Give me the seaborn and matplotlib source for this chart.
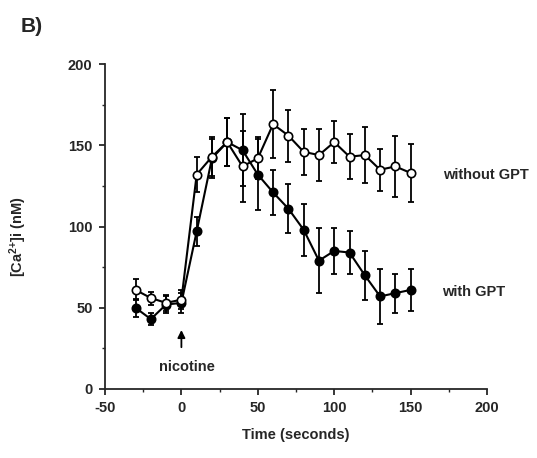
import numpy as np
import pandas as pd
import matplotlib
matplotlib.use("Agg")
import matplotlib.pyplot as plt
import seaborn as sns

time_s = [-30, -20, -10, 0, 10, 20, 30, 40, 50, 60, 70, 80, 90, 100, 110, 120, 130, 140, 150]
without_gpt = [61, 56, 53, 55, 132, 143, 152, 137, 142, 163, 156, 146, 144, 152, 143, 144, 135, 137, 133]
without_gpt_err = [6.5, 4, 5, 6, 11, 12, 15, 22, 13, 21, 16, 14, 16, 13, 14, 17, 13, 19, 18]
with_gpt = [50, 43, 52, 53, 97, 142, 152, 147, 132, 121, 111, 98, 79, 85, 84, 70, 57, 59, 61]
with_gpt_err = [5.5, 3.5, 5, 6, 9, 12, 15, 22, 22, 14, 15, 16, 20, 14, 13, 15, 17, 12, 13]
x_ticks = [-50, 0, 50, 100, 150, 200]
y_ticks = [0, 50, 100, 150, 200]

sns.set_style("ticks")
plt.rcParams['font.family'] = ['Liberation Sans', 'DejaVu Sans']
plt.rcParams['font.weight'] = 'bold'
plt.rcParams['axes.unicode_minus'] = False
plt.rcParams['mathtext.fontset'] = 'custom'
plt.rcParams['mathtext.rm'] = 'Liberation Sans:bold'
plt.rcParams['mathtext.bf'] = 'Liberation Sans:bold'
plt.rcParams['mathtext.default'] = 'bf'

df = pd.DataFrame({
    "time": time_s * 2,
    "ca": without_gpt + with_gpt,
    "err": without_gpt_err + with_gpt_err,
    "group": ["without GPT"] * len(time_s) + ["with GPT"] * len(time_s),
})

fig = plt.figure(figsize=(5.37, 4.58), dpi=100)
ax = fig.add_axes([0.1955, 0.1507, 0.7115, 0.7093])

for grp, face, z in [("with GPT", "black", 3), ("without GPT", "white", 4)]:
    sub = df[df["group"] == grp]
    ax.errorbar(sub["time"], sub["ca"], yerr=sub["err"], fmt="none",
                ecolor="black", elinewidth=1.3, capsize=2.5, capthick=1.3, zorder=z - 1)
    sns.lineplot(data=sub, x="time", y="ca", ax=ax, color="black", lw=1.5,
                 marker="o", markersize=6, markerfacecolor=face,
                 markeredgecolor="black", markeredgewidth=1.2, zorder=z)

ax.set_xlim(-50, 200)
ax.set_ylim(0, 200)
ax.set_xticks(x_ticks)
ax.set_yticks(y_ticks)
ax.set_xticks(np.arange(-25, 200, 50), minor=True)
ax.set_yticks(np.arange(25, 200, 50), minor=True)
ax.tick_params(axis="both", which="major", direction="out", length=4, width=1.3,
               labelsize=10.5, pad=5)
ax.tick_params(axis="both", which="minor", direction="out", length=2.5, width=1)
for lab in ax.get_xticklabels() + ax.get_yticklabels():
    lab.set_fontweight("bold")
for sp in ["top", "right"]:
    ax.spines[sp].set_visible(False)
for sp in ["left", "bottom"]:
    ax.spines[sp].set_linewidth(1.3)

ax.set_xlabel("Time (seconds)", fontsize=10.5, fontweight="bold", labelpad=9)
ax.set_ylabel("[Ca$^{2{+}}$]i (nM)", fontsize=10.5, fontweight="bold")
ax.yaxis.set_label_coords(-0.2, 0.47)

ax.text(171, 131.5, "without GPT", fontsize=10.5, fontweight="bold", va="center", ha="left")
ax.text(170.5, 60, "with GPT", fontsize=10.5, fontweight="bold", va="center", ha="left")
ax.text(3.6, 13.5, "nicotine", fontsize=10.5, fontweight="bold", va="center", ha="center")
ax.annotate("", xy=(0, 38), xytext=(0, 24),
            arrowprops=dict(arrowstyle="-|>", color="black", lw=1.3, mutation_scale=11))

fig.text(21 / 537, 1 - 26 / 458, "B)", fontsize=15, fontweight="bold", va="center", ha="left")

if ax.get_legend() is not None:
    ax.get_legend().remove()

fig.savefig("out.png", dpi=100)
